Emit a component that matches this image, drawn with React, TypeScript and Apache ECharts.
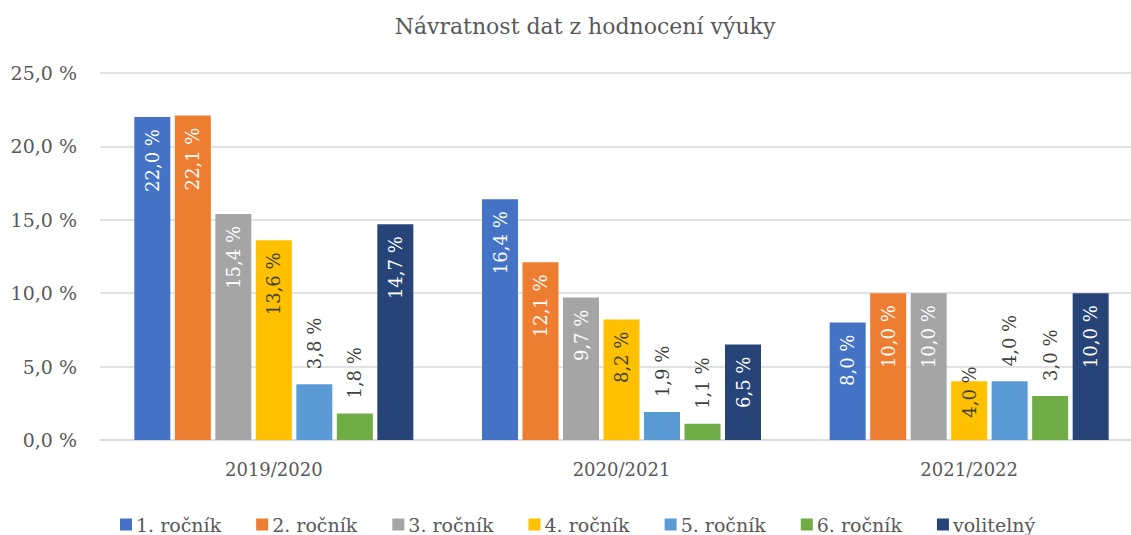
import React, { useEffect, useRef } from "react";
import * as echarts from "echarts";

const title = "Návratnost dat z hodnocení výuky";
const categories = ["2019/2020", "2020/2021", "2021/2022"];
const seriesNames = ["1. ročník", "2. ročník", "3. ročník", "4. ročník", "5. ročník", "6. ročník", "volitelný"];
const rocnik1 = [22.0, 16.4, 8.0];
const rocnik2 = [22.1, 12.1, 10.0];
const rocnik3 = [15.4, 9.7, 10.0];
const rocnik4 = [13.6, 8.2, 4.0];
const rocnik5 = [3.8, 1.9, 4.0];
const rocnik6 = [1.8, 1.1, 3.0];
const volitelny = [14.7, 6.5, 10.0];
const yTicks = [0, 5, 10, 15, 20, 25];

// label placement per series per category: "in" inside top, "out" above bar, "edge" straddling top
const placement = [
  ["in", "in", "in"],
  ["in", "in", "in"],
  ["in", "in", "in"],
  ["in", "in", "edge"],
  ["out", "out", "out"],
  ["out", "out", "out"],
  ["in", "in", "in"],
];
const colors = ["#4472C4", "#ED7D31", "#A5A5A5", "#FFC000", "#5B9BD5", "#70AD47", "#264478"];
const insideTextColors = ["#ffffff", "#ffffff", "#ffffff", "#404040", "#ffffff", "#ffffff", "#ffffff"];

const FONT = "DejaVu Serif";
const fmt = (v: number) => v.toFixed(1).replace(".", ",") + " %";

export default function App() {
  const ref = useRef<HTMLDivElement>(null);
  useEffect(() => {
    document.body.style.margin = "0";
    const chart = echarts.init(ref.current!, undefined, { renderer: "svg" });
    const all = [rocnik1, rocnik2, rocnik3, rocnik4, rocnik5, rocnik6, volitelny];
    const series = all.map((vals, si) => ({
      name: seriesNames[si],
      type: "bar",
      barWidth: 36,
      barGap: "12.5%",
      itemStyle: { color: colors[si] },
      data: vals.map((v, ci) => {
        const p = placement[si][ci];
        let label: any;
        if (p === "in") {
          label = {
            show: true, position: "insideTop", distance: 12, rotate: 90,
            align: "right", verticalAlign: "middle", color: insideTextColors[si],
          };
        } else if (p === "out") {
          label = {
            show: true, position: "top", distance: 15, rotate: 90,
            align: "left", verticalAlign: "middle", color: "#404040",
          };
        } else {
          label = {
            show: true, position: ["50%", -15], rotate: 90,
            align: "right", verticalAlign: "middle", color: "#404040",
          };
        }
        return { value: v, label };
      }),
      label: { fontFamily: FONT, fontSize: 18, formatter: (p: any) => fmt(p.value) },
    }));
    chart.setOption({
      animation: false,
      color: colors,
      textStyle: { fontFamily: FONT },
      title: {
        text: title, left: 580, textAlign: "center", top: 10,
        textStyle: { fontFamily: FONT, fontSize: 22, fontWeight: "normal", color: "#595959" },
      },
      legend: {
        data: seriesNames, top: 510, left: 115, itemWidth: 12, itemHeight: 12, itemGap: 35,
        icon: "rect",
        textStyle: { fontFamily: FONT, fontSize: 19, color: "#595959", padding: [0, 0, 0, -1] },
      },
      grid: { left: 100, right: 0, top: 73, bottom: 95, containLabel: false, outerBoundsMode: "none" },
      xAxis: {
        type: "category", data: categories,
        axisLine: { lineStyle: { color: "#d9d9d9", width: 1.5 } },
        axisTick: { show: false },
        axisLabel: { fontFamily: FONT, fontSize: 18, color: "#595959", margin: 20 },
      },
      yAxis: {
        type: "value", min: yTicks[0], max: yTicks[yTicks.length - 1], interval: 5,
        axisLine: { show: false }, axisTick: { show: false },
        splitLine: { lineStyle: { color: "#d9d9d9", width: 1.5 } },
        axisLabel: { fontFamily: FONT, fontSize: 19, color: "#595959", margin: 23, formatter: (v: number) => fmt(v) },
      },
      series,
    });
    return () => chart.dispose();
  }, []);
  return (
    <div style={{ width: 1131, height: 535, overflow: "hidden", position: "relative" }}>
      <div ref={ref} style={{ width: 1143, height: 535 }} />
    </div>
  );
}
